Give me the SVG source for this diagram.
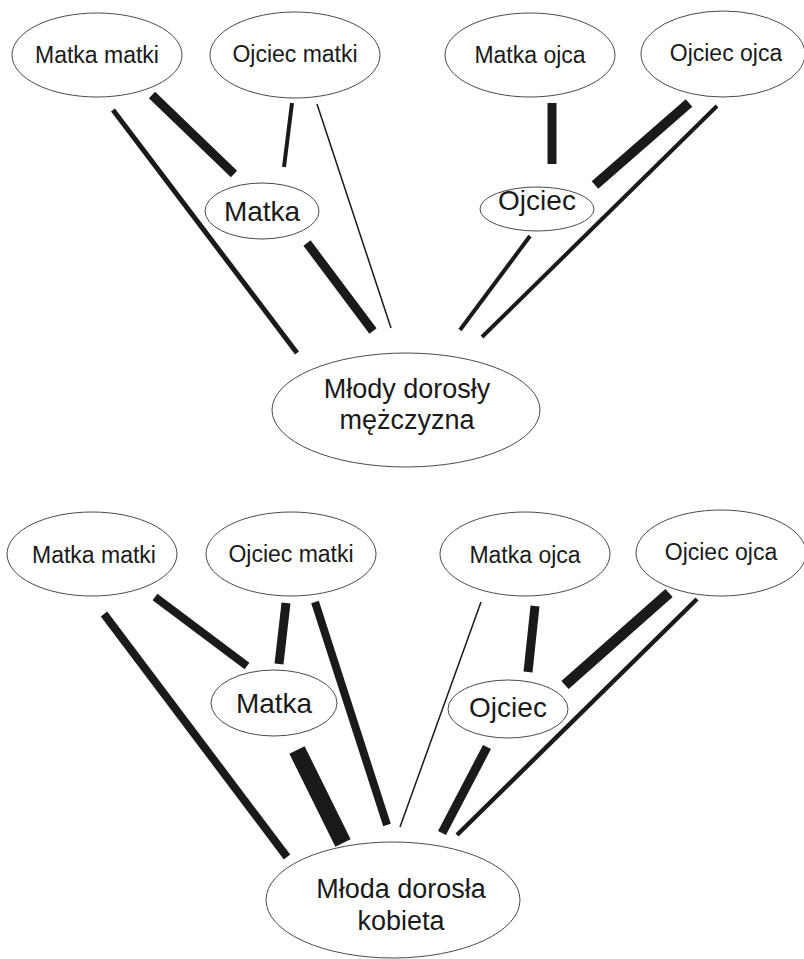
<svg xmlns="http://www.w3.org/2000/svg" width="804" height="959" viewBox="0 0 804 959">
<style>
.n{fill:#fff;stroke:#4a4a4a;stroke-width:1}
.t{font-family:"Liberation Sans",Arial,sans-serif;fill:#1a1a1a;text-anchor:middle}
.s{font-size:23px}
.m{font-size:28px}
.b{font-size:27px}
.c line{stroke:#1a1a1a;stroke-linecap:butt}
</style>
<rect width="804" height="959" fill="#fff"/>
<g id="connectors" class="c">
<line x1="113" y1="110" x2="297" y2="353" stroke-width="5"/>
<line x1="152" y1="95" x2="234" y2="174" stroke-width="9"/>
<line x1="292" y1="103" x2="284" y2="167" stroke-width="4"/>
<line x1="317" y1="104" x2="391" y2="328" stroke-width="1.5"/>
<line x1="307" y1="243" x2="373" y2="331" stroke-width="9"/>
<line x1="552" y1="103" x2="552" y2="164" stroke-width="9"/>
<line x1="689" y1="103" x2="595" y2="185" stroke-width="10"/>
<line x1="717" y1="106" x2="482" y2="337" stroke-width="4"/>
<line x1="530" y1="236" x2="460" y2="330" stroke-width="4"/>
<line x1="104" y1="614" x2="287" y2="857" stroke-width="8"/>
<line x1="155" y1="597" x2="247" y2="666" stroke-width="8"/>
<line x1="286" y1="603" x2="279" y2="664" stroke-width="9"/>
<line x1="315" y1="602" x2="387" y2="825" stroke-width="8"/>
<line x1="297" y1="750" x2="343" y2="843" stroke-width="17"/>
<line x1="481" y1="602" x2="400" y2="827" stroke-width="1.5"/>
<line x1="535" y1="606" x2="528" y2="672" stroke-width="9"/>
<line x1="669" y1="593" x2="565" y2="685" stroke-width="11"/>
<line x1="697" y1="599" x2="457" y2="835" stroke-width="4.5"/>
<line x1="487" y1="747" x2="442" y2="833" stroke-width="9"/>
</g>
<g id="top-matka-matki"><ellipse class="n" cx="97" cy="55" rx="85" ry="42"/><text class="t s" x="97" y="63">Matka matki</text></g>
<g id="top-ojciec-matki"><ellipse class="n" cx="295" cy="55" rx="85" ry="43"/><text class="t s" x="295" y="62">Ojciec matki</text></g>
<g id="top-matka-ojca"><ellipse class="n" cx="530" cy="55" rx="85" ry="42"/><text class="t s" x="530" y="63">Matka ojca</text></g>
<g id="top-ojciec-ojca"><ellipse class="n" cx="723" cy="54" rx="82" ry="43"/><text class="t s" x="726" y="61">Ojciec ojca</text></g>
<g id="top-matka"><ellipse class="n" cx="262" cy="211" rx="57" ry="28"/><text class="t m" x="262" y="221">Matka</text></g>
<g id="top-ojciec"><ellipse class="n" cx="537" cy="209" rx="57" ry="22"/><text class="t m" x="537" y="210">Ojciec</text></g>
<g id="mlody"><ellipse class="n" cx="406" cy="410" rx="134" ry="57"/><text class="t b" x="407" y="398">Młody dorosły</text><text class="t b" x="407" y="429">mężczyzna</text></g>
<g id="bottom-matka-matki"><ellipse class="n" cx="92" cy="554" rx="85" ry="42"/><text class="t s" x="94" y="563">Matka matki</text></g>
<g id="bottom-ojciec-matki"><ellipse class="n" cx="291" cy="554" rx="85" ry="42"/><text class="t s" x="291" y="562">Ojciec matki</text></g>
<g id="bottom-matka-ojca"><ellipse class="n" cx="525" cy="554" rx="85" ry="42"/><text class="t s" x="525" y="563">Matka ojca</text></g>
<g id="bottom-ojciec-ojca"><ellipse class="n" cx="721" cy="553" rx="85" ry="43"/><text class="t s" x="721" y="560">Ojciec ojca</text></g>
<g id="bottom-matka"><ellipse class="n" cx="274" cy="703" rx="63" ry="33"/><text class="t m" x="274" y="713">Matka</text></g>
<g id="bottom-ojciec"><ellipse class="n" cx="508" cy="709" rx="60" ry="29"/><text class="t m" x="508" y="717">Ojciec</text></g>
<g id="mloda"><ellipse class="n" cx="393" cy="900" rx="127" ry="58"/><text class="t b" x="401" y="898">Młoda dorosła</text><text class="t b" x="401" y="930">kobieta</text></g>
</svg>
